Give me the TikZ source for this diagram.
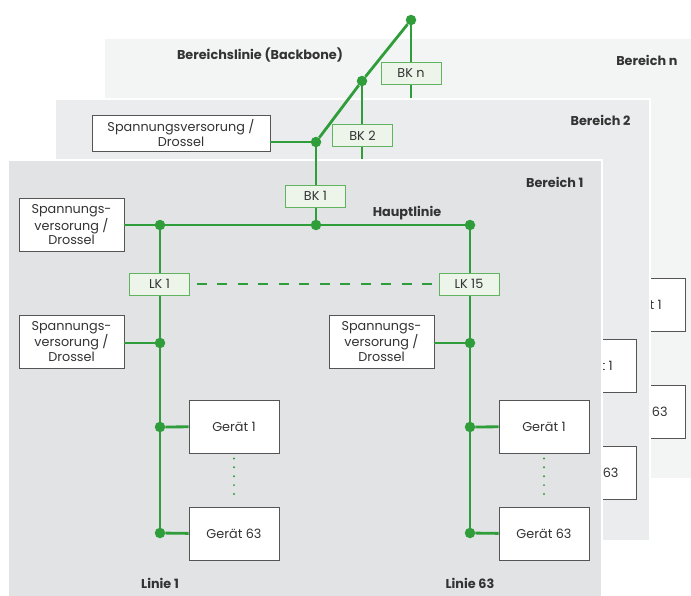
\documentclass[tikz,border=0pt]{standalone}
\usepackage{fontspec}
\setmainfont{Poppins}
\definecolor{gruen}{RGB}{46,157,58}
\definecolor{gruenrand}{RGB}{96,180,96}
\definecolor{gruenhell}{RGB}{237,245,234}
\definecolor{rahmen}{RGB}{85,85,85}
\definecolor{schrift}{RGB}{51,51,51}
\definecolor{bereichn}{RGB}{243,244,244}
\definecolor{bereichzwei}{RGB}{235,236,237}
\definecolor{bereicheins}{RGB}{226,227,229}
\tikzset{
  bus/.style={gruen,line width=2.8pt},
  punkt/.style={circle,fill=gruen,inner sep=0pt,minimum size=10.5pt},
  koppler/.style={draw=gruenrand,fill=gruenhell,line width=0.9pt,minimum width=60pt,minimum height=22pt,inner sep=0pt},
  geraet/.style={draw=rahmen,fill=white,line width=0.8pt,minimum width=90pt,minimum height=53pt,inner sep=0pt,align=center},
  versorgung/.style={geraet,minimum width=105pt},
  titel/.style={font=\fontsize{12.8}{14}\selectfont\bfseries},
  bereich/.style={draw=white,line width=2pt}
}
\begin{document}
\begin{tikzpicture}[x=1pt,y=-1pt,font=\fontsize{12.8}{14.5}\selectfont,text=schrift]
\useasboundingbox (0,0) rectangle (691,595);
\fill[bereich,fill=bereichn] (104,38) rectangle (694,479);
\node[titel] (bbtitel) at (260,55) {Bereichslinie (Backbone)};
\node[titel,anchor=east] (bntitel) at (681,60) {Bereich n};
\node[geraet] (gn1) at (640,304.5) {Gerät 1};
\node[geraet] (gn63) at (640,412) {Gerät 63};
\node[punkt] (bbn) at (411,20) {};
\coordinate (bbnend) at (411,110);
\draw[bus] (bbn) -- (bbnend);
\node[koppler] (bkn) at (411,73.5) {BK n};
\fill[bereich,fill=bereichzwei] (55,99) rectangle (650,541);
\node[titel,anchor=east] (b2titel) at (634,120) {Bereich 2};
\node[geraet] (gz1) at (591,365.5) {Gerät 1};
\node[geraet] (gz63) at (591,473) {Gerät 63};
\node[punkt] (bb2) at (362,81) {};
\coordinate (bb2end) at (362,170);
\draw[bus] (bb2) -- (bb2end);
\node[koppler] (bk2) at (362.5,135.5) {BK 2};
\node[punkt] (bb1) at (316,142) {};
\draw[bus] (bbn) -- (bb2) -- (bb1);
\node[geraet,minimum width=178pt,minimum height=36pt,font=\fontsize{12.8}{15}\selectfont] (sv0) at (181,133) {Spannungsversorung /\\Drossel};
\draw[bus] (sv0.east |- bb1) -- (bb1);
\fill[bereich,fill=bereicheins] (8,160) rectangle (602,598);
\node[titel,anchor=east] (b1titel) at (587,182) {Bereich 1};
\node[punkt] (h1) at (160,225) {};
\node[punkt] (h2) at (316,225) {};
\node[punkt] (h3) at (470,225) {};
\draw[bus] (bb1) -- (h2);
\node[koppler] (bk1) at (315.5,196) {BK 1};
\node[versorgung] (sv1) at (71.5,225) {Spannungs-\\versorung /\\Drossel};
\draw[bus] (sv1) -- (h1) -- (h2) -- (h3);
\node[titel] (haupt) at (407,213) {Hauptlinie};
\node[punkt] (la1) at (160,343) {};
\node[punkt] (la2) at (160,427) {};
\node[punkt] (la3) at (160,533) {};
\node[punkt] (lb1) at (470,343) {};
\node[punkt] (lb2) at (470,427) {};
\node[punkt] (lb3) at (470,533) {};
\draw[bus] (h1) -- (la1) -- (la2) -- (la3);
\draw[bus] (h3) -- (lb1) -- (lb2) -- (lb3);
\node[koppler] (lk1) at (159.5,284) {LK 1};
\node[koppler] (lk15) at (469,284) {LK 15};
\draw[bus,dash pattern=on 10pt off 10.5pt,shorten <=7pt,shorten >=5pt] (lk1) -- (lk15);
\node[versorgung] (sv2) at (71.5,341.5) {Spannungs-\\versorung /\\Drossel};
\node[versorgung] (sv3) at (381.5,341.5) {Spannungs-\\versorung /\\Drossel};
\draw[bus] (sv2.east |- la1) -- (la1);
\draw[bus] (sv3.east |- lb1) -- (lb1);
\node[geraet] (ga1) at (234,426.5) {Gerät 1};
\node[geraet] (ga63) at (234,534) {Gerät 63};
\node[geraet] (gb1) at (544,426.5) {Gerät 1};
\node[geraet] (gb63) at (544,534) {Gerät 63};
\draw[bus] (la2) -- (ga1);
\draw[bus] (la3) -- (ga63);
\draw[bus] (lb2) -- (gb1);
\draw[bus] (lb3) -- (gb63);
\draw[gruen,line width=2.2pt,line cap=round,dash pattern=on 0pt off 8.9pt,shorten <=5pt,shorten >=5pt] (ga1) -- (ga63);
\draw[gruen,line width=2.2pt,line cap=round,dash pattern=on 0pt off 8.9pt,shorten <=5pt,shorten >=5pt] (gb1) -- (gb63);
\node[titel] (linie1) at (160,583) {Linie 1};
\node[titel] (linie63) at (470,583) {Linie 63};
\end{tikzpicture}
\end{document}
